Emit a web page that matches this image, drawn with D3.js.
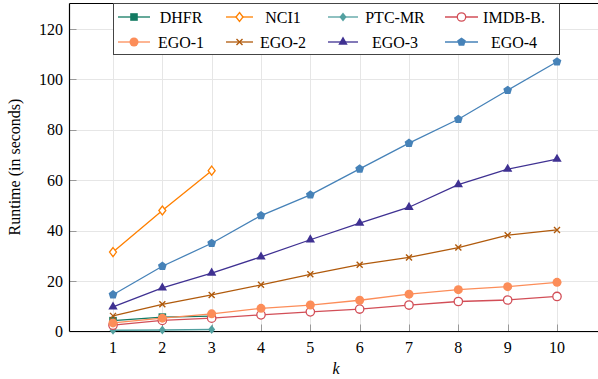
<!DOCTYPE html>
<html>
<head>
<meta charset="utf-8">
<script src="https://cdn.jsdelivr.net/npm/d3@7"></script>
<style>
  body { margin: 0; background: #fff; }
</style>
</head>
<body>
<div id="chart"></div>
<script>
// k values and runtime per dataset
const ks = [1, 2, 3, 4, 5, 6, 7, 8, 9, 10];
const dhfr = [4.3, 5.7, 6.1];
const nci1 = [31.5, 48.0, 63.8];
const ptcmr = [0.5, 0.6, 0.8];
const imdb = [2.5, 4.4, 5.3, 6.6, 7.8, 8.9, 10.5, 11.9, 12.5, 13.9];
const ego1 = [3.4, 5.3, 7.0, 9.2, 10.5, 12.4, 14.8, 16.6, 17.8, 19.5];
const ego2 = [6.2, 10.8, 14.5, 18.5, 22.7, 26.5, 29.4, 33.3, 38.2, 40.3];
const ego3 = [9.8, 17.3, 23.2, 29.6, 36.4, 43.0, 49.3, 58.3, 64.4, 68.4];
const ego4 = [14.6, 25.9, 35.0, 46.0, 54.2, 64.5, 74.7, 84.2, 95.7, 107.0];
const yTicks = [0, 20, 40, 60, 80, 100, 120];

const series = [
  {name: "DHFR", values: dhfr, color: "#127a62", marker: "square"},
  {name: "NCI1", values: nci1, color: "#ff8000", marker: "diamondOpen"},
  {name: "PTC-MR", values: ptcmr, color: "#52a0a0", marker: "diamond"},
  {name: "IMDB-B.", values: imdb, color: "#d24e57", marker: "circleOpen"},
  {name: "EGO-1", values: ego1, color: "#fc8d59", marker: "circleBig"},
  {name: "EGO-2", values: ego2, color: "#b05a0c", marker: "cross"},
  {name: "EGO-3", values: ego3, color: "#3f3192", marker: "triangle"},
  {name: "EGO-4", values: ego4, color: "#4682b8", marker: "pentagon"}
];

const width = 598, height = 379;
const x = d3.scaleLinear().domain([1, 10]).range([113, 557]);
const y = d3.scaleLinear().domain([0, 120]).range([331.5, 29]);
const plotLeft = 69.5, plotBottom = 331.5, plotTop = 3.5;
const serif = "'Liberation Serif', 'Times New Roman', Times, 'DejaVu Serif', serif";

const svg = d3.select("#chart").append("svg")
  .attr("width", width)
  .attr("height", height)
  .attr("font-family", serif)
  .style("display", "block");

// grid
svg.append("g").selectAll("line")
  .data(yTicks)
  .join("line")
  .attr("x1", plotLeft).attr("x2", width)
  .attr("y1", d => Math.round(y(d)) + 0.5).attr("y2", d => Math.round(y(d)) + 0.5)
  .attr("stroke", "#e6e6e6").attr("stroke-width", 1);
svg.append("g").selectAll("line")
  .data(ks)
  .join("line")
  .attr("x1", d => Math.round(x(d)) + 0.5).attr("x2", d => Math.round(x(d)) + 0.5)
  .attr("y1", plotTop).attr("y2", plotBottom)
  .attr("stroke", "#e6e6e6").attr("stroke-width", 1);

// small tick marks
svg.append("g").selectAll("line")
  .data(ks)
  .join("line")
  .attr("x1", d => Math.round(x(d)) + 0.5).attr("x2", d => Math.round(x(d)) + 0.5)
  .attr("y1", plotBottom - 7).attr("y2", plotBottom)
  .attr("stroke", "#999");
svg.append("g").selectAll("line")
  .data(yTicks.slice(1))
  .join("line")
  .attr("x1", plotLeft).attr("x2", plotLeft + 7)
  .attr("y1", d => Math.round(y(d)) + 0.5).attr("y2", d => Math.round(y(d)) + 0.5)
  .attr("stroke", "#999");

// axis lines
svg.append("line").attr("x1", plotLeft).attr("x2", plotLeft).attr("y1", plotTop).attr("y2", plotBottom)
  .attr("stroke", "#000").attr("stroke-width", 1.2);
svg.append("line").attr("x1", plotLeft).attr("x2", width).attr("y1", plotBottom).attr("y2", plotBottom)
  .attr("stroke", "#000").attr("stroke-width", 1.2);
svg.append("line").attr("x1", plotLeft).attr("x2", width).attr("y1", plotTop).attr("y2", plotTop)
  .attr("stroke", "#000").attr("stroke-width", 1);

// tick labels
svg.append("g").selectAll("text")
  .data(yTicks)
  .join("text")
  .attr("x", 63).attr("y", d => y(d))
  .attr("dy", "0.35em")
  .attr("text-anchor", "end")
  .attr("font-size", 16)
  .text(d => d);
svg.append("g").selectAll("text")
  .data(ks)
  .join("text")
  .attr("x", d => x(d)).attr("y", 353)
  .attr("text-anchor", "middle")
  .attr("font-size", 16)
  .text(d => d);

svg.append("text")
  .attr("transform", "translate(20,167) rotate(-90)")
  .attr("text-anchor", "middle")
  .attr("font-size", 16)
  .text("Runtime (in seconds)");
svg.append("text")
  .attr("x", 336).attr("y", 374)
  .attr("text-anchor", "middle")
  .attr("font-size", 16)
  .attr("font-style", "italic")
  .text("k");

function drawMarker(g, type, color) {
  if (type === "square") {
    g.append("rect").attr("x", -3.8).attr("y", -3.8).attr("width", 7.6).attr("height", 7.6).attr("fill", color);
  } else if (type === "diamondOpen") {
    g.append("path").attr("d", "M0,-4.5L3.5,0L0,4.5L-3.5,0Z").attr("fill", "#fff").attr("stroke", color).attr("stroke-width", 1.3);
  } else if (type === "diamond") {
    g.append("path").attr("d", "M0,-4.5L3.5,0L0,4.5L-3.5,0Z").attr("fill", color);
  } else if (type === "circleOpen") {
    g.append("circle").attr("r", 4.2).attr("fill", "#fff").attr("stroke", color).attr("stroke-width", 1.3);
  } else if (type === "circleBig") {
    g.append("circle").attr("r", 4.5).attr("fill", color);
  } else if (type === "cross") {
    g.append("path").attr("d", "M-3,-3L3,3M-3,3L3,-3").attr("stroke", color).attr("stroke-width", 1.4);
  } else if (type === "triangle") {
    g.append("path").attr("d", d3.symbol(d3.symbolTriangle, 38)()).attr("fill", color);
  } else if (type === "pentagon") {
    const pts = d3.range(5).map(i => {
      const a = -Math.PI / 2 + i * 2 * Math.PI / 5;
      return [4.6 * Math.cos(a), 4.6 * Math.sin(a)];
    });
    g.append("path").attr("d", "M" + pts.join("L") + "Z").attr("fill", color);
  }
}

const line = d3.line().x((d, i) => x(ks[i])).y(d => y(d));

series.forEach(s => {
  const g = svg.append("g");
  g.append("path")
    .attr("d", line(s.values))
    .attr("fill", "none")
    .attr("stroke", s.color)
    .attr("stroke-width", 1.3);
  s.values.forEach((v, i) => {
    const m = g.append("g").attr("transform", `translate(${x(ks[i])},${y(v)})`);
    drawMarker(m, s.marker, s.color);
  });
});

// legend
const legend = svg.append("g");
legend.append("rect")
  .attr("x", 113.5).attr("y", 3.5).attr("width", 446).attr("height", 51)
  .attr("fill", "#fff").attr("stroke", "#444").attr("stroke-width", 1);
const colLine = [[118, 150], [226, 253], [328, 358], [445, 478]];
const colText = [181, 283, 395, 514];
const rowY = [17, 42];
series.forEach((s, i) => {
  const c = i % 4, r = Math.floor(i / 4);
  const g = legend.append("g");
  g.append("line")
    .attr("x1", colLine[c][0]).attr("x2", colLine[c][1])
    .attr("y1", rowY[r]).attr("y2", rowY[r])
    .attr("stroke", s.color).attr("stroke-width", 1.3);
  const m = g.append("g").attr("transform", `translate(${(colLine[c][0] + colLine[c][1]) / 2},${rowY[r]})`);
  drawMarker(m, s.marker, s.color);
  g.append("text")
    .attr("x", colText[c]).attr("y", rowY[r])
    .attr("dy", "0.35em")
    .attr("text-anchor", "middle")
    .attr("font-size", 16)
    .text(s.name);
});
</script>
</body>
</html>
